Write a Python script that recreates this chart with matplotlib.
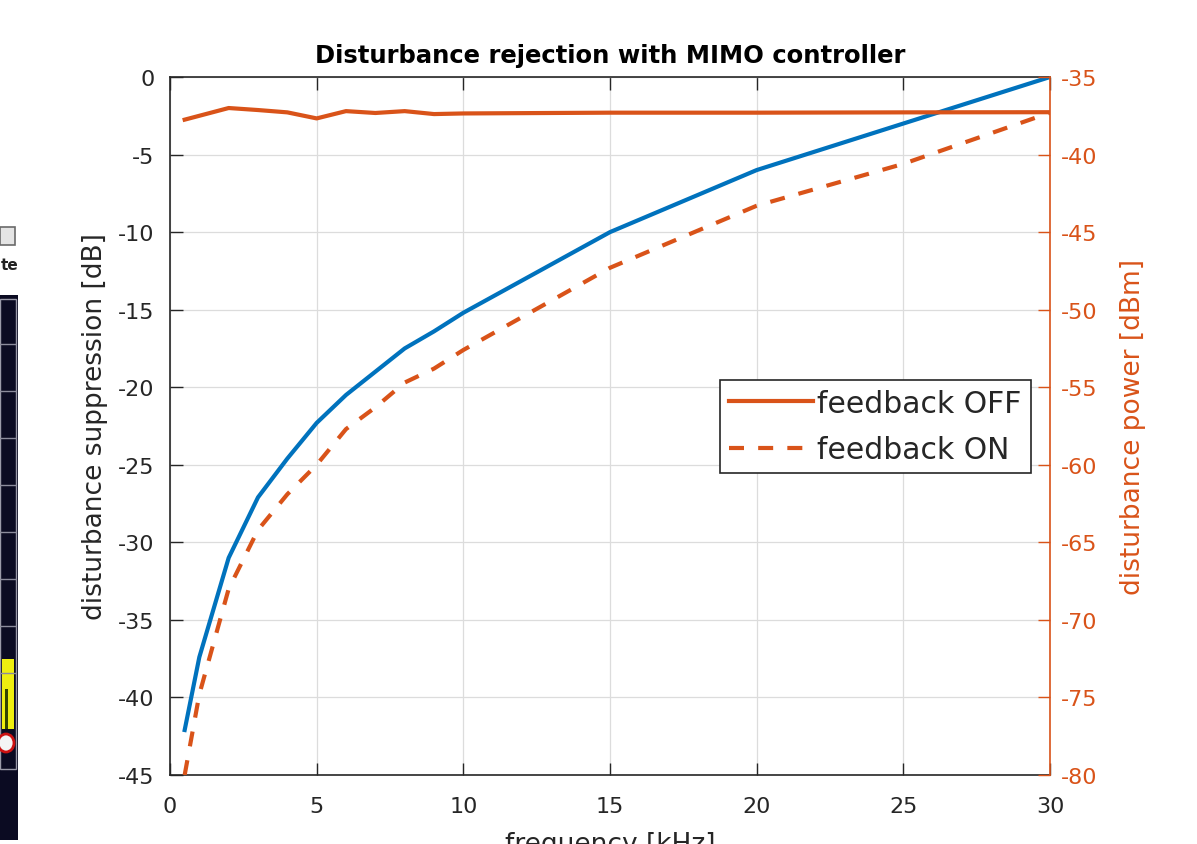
import matplotlib
matplotlib.use("Agg")
import matplotlib.pyplot as plt
import numpy as np
from matplotlib.patches import Rectangle, Ellipse

# readings from the reference picture
freq_khz = [0.5, 1, 2, 3, 4, 5, 6, 7, 8, 9, 10, 15, 20, 25, 30]
suppression_db = [-42.1, -37.4, -31.0, -27.1, -24.6, -22.3, -20.5, -19.0,
                  -17.5, -16.4, -15.2, -10.0, -6.0, -3.0, 0.0]
power_off_dbm = [-37.75, -37.5, -37.0, -37.13, -37.28, -37.67, -37.2, -37.32,
                 -37.2, -37.39, -37.35, -37.3, -37.3, -37.28, -37.27]
power_on_dbm = [-80.0, -74.8, -68.0, -64.2, -61.9, -60.0, -57.7, -56.3,
                -54.7, -53.8, -52.6, -47.3, -43.3, -40.6, -37.3]

x_ticks = [0, 5, 10, 15, 20, 25, 30]
left_ticks = [-45, -40, -35, -30, -25, -20, -15, -10, -5, 0]
right_ticks = [-80, -75, -70, -65, -60, -55, -50, -45, -40, -35]

BLUE = "#0072BD"
ORANGE = "#D95319"
DARK = "#262626"

W, H = 1197, 845
plt.rcParams['font.family'] = ['DejaVu Sans']
plt.rcParams['axes.unicode_minus'] = False

fig = plt.figure(figsize=(W / 100, H / 100), dpi=100)


def px_box(x0, y0, x1, y1):
    return [x0 / W, 1 - y1 / H, (x1 - x0) / W, (y1 - y0) / H]


# leftover piece of another screenshot on the left edge
side = fig.add_axes(px_box(0, 222, 20, 845))
side.set_xlim(0, 20)
side.set_ylim(845, 222)
side.axis("off")
side.add_patch(Rectangle((0, 228), 15, 18, facecolor="#e4e4e4", edgecolor="#6a6a6a", lw=1.2))
side.text(0.5, 266, "te", ha="left", va="center", fontsize=11, fontweight="bold", color="#222222")
side.add_patch(Rectangle((0, 296), 18, 545, facecolor="#0b0b22", edgecolor="none"))
side.add_patch(Rectangle((0, 300), 16, 470, facecolor="none", edgecolor="#9a9aa8", lw=1))
for yy in np.arange(345, 700, 47):
    side.plot([0, 15], [yy, yy], color="#8c8c9c", lw=1)
side.add_patch(Rectangle((2, 660), 12, 70, facecolor="#eeee10", edgecolor="none"))
side.add_patch(Rectangle((5, 690), 3, 40, facecolor="#334400", edgecolor="none"))
side.add_patch(Ellipse((6, 744), 16, 18, facecolor="#f4f4f4", edgecolor="#cc1111", lw=2))
grad = np.linspace(0.55, 0.0, 50).reshape(-1, 1)
side.imshow(grad, cmap="gray", vmin=0, vmax=1, extent=(0, 18, 835, 775), aspect="auto")

ax = fig.add_axes(px_box(170, 78, 1050, 776))
ax2 = ax.twinx()

ax.plot(freq_khz, suppression_db, color=BLUE, lw=3)
ax2.plot(freq_khz, power_off_dbm, color=ORANGE, lw=3, label="feedback OFF")
ax2.plot(freq_khz, power_on_dbm, color=ORANGE, lw=3, linestyle=(0, (3.6, 3.4)),
         label="feedback ON")

ax.set_xlim(0, 30)
ax.set_ylim(-45, 0)
ax2.set_ylim(-80, -35)
ax.set_xticks(x_ticks)
ax.set_yticks(left_ticks)
ax2.set_yticks(right_ticks)

ax.grid(True, color="#dcdcdc", lw=0.9)
ax.set_axisbelow(True)

for s in ["left", "bottom", "top"]:
    ax.spines[s].set_color(DARK)
    ax.spines[s].set_linewidth(1.2)
ax.spines["right"].set_visible(False)
for s in ["left", "bottom", "top"]:
    ax2.spines[s].set_visible(False)
ax2.spines["right"].set_color(ORANGE)
ax2.spines["right"].set_linewidth(1.2)

ax.tick_params(axis="x", direction="in", length=9, width=1, top=True,
               labelsize=16, pad=15, colors=DARK)
ax.tick_params(axis="y", direction="in", length=9, width=1,
               labelsize=16, pad=11, colors=DARK)
ax2.tick_params(axis="y", direction="in", length=9, width=1,
                labelsize=16, pad=8, colors=ORANGE)

ax.set_title("Disturbance rejection with MIMO controller", fontsize=17.5,
             fontweight="bold", pad=11)
# the reference screenshot cuts this label off at the bottom edge
ax.set_xlabel("frequency [kHz]", fontsize=19, color=DARK)
ax.xaxis.set_label_coords(0.5, -0.080)
ax.set_ylabel("disturbance suppression [dB]", fontsize=19, color=DARK)
ax.yaxis.set_label_coords(-0.0705, 0.5)
ax2.set_ylabel("disturbance power [dBm]", fontsize=19, color=ORANGE)
ax2.yaxis.set_label_coords(1.0795, 0.5)

leg = ax2.legend(loc="upper right", bbox_to_anchor=(0.978, 0.566),
                 borderaxespad=0, fontsize=21.5, handlelength=2.8,
                 handletextpad=0.15, labelspacing=0.58, borderpad=0.3,
                 fancybox=False, framealpha=1, edgecolor=DARK)
leg.get_frame().set_linewidth(1.2)
for t in leg.get_texts():
    t.set_color(DARK)

fig.savefig("out.png", dpi=100)
